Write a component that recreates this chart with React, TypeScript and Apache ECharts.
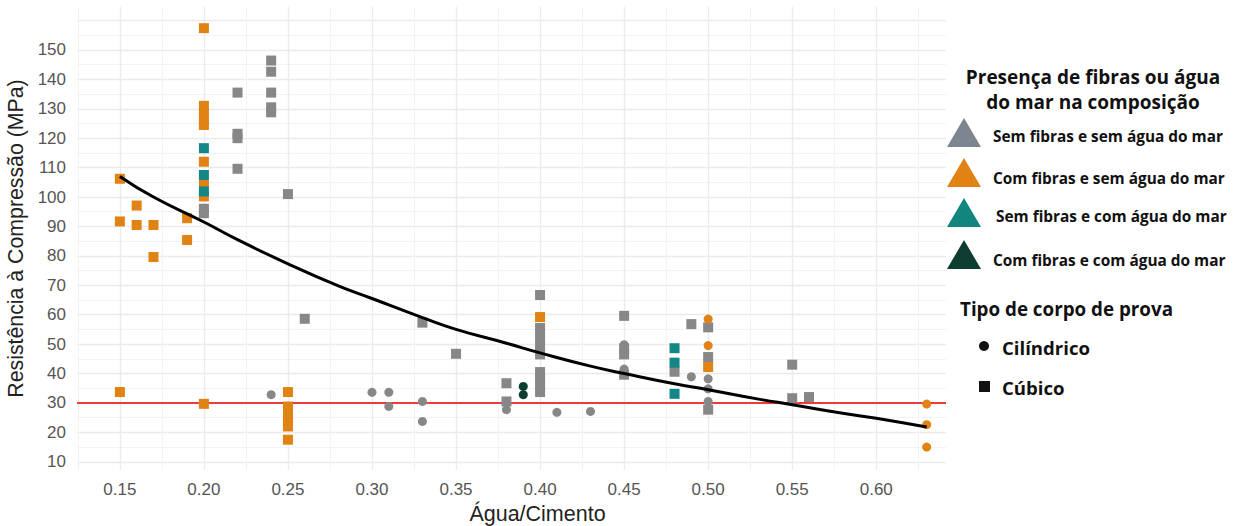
import React, { useEffect, useRef } from "react";
import * as echarts from "echarts";

// ---- data ----
type P = [number, number];

// Sem fibras e sem água do mar
const grayCubic: P[] = [
  [0.2, 96], [0.2, 94.5],
  [0.22, 135.5], [0.22, 121.5], [0.22, 120], [0.22, 109.6],
  [0.24, 146.4], [0.24, 142.6], [0.24, 135.5], [0.24, 130.5], [0.24, 128.8],
  [0.25, 101], [0.26, 58.6], [0.33, 57.3], [0.35, 46.7],
  [0.38, 36.7], [0.38, 30.5],
  [0.4, 66.7], [0.4, 55.5], [0.4, 52.5], [0.4, 49.5], [0.4, 46.5],
  [0.4, 40.5], [0.4, 38], [0.4, 36], [0.4, 33.7],
  [0.45, 59.6], [0.45, 48.5], [0.45, 46.5], [0.45, 39.6],
  [0.48, 40.6], [0.49, 56.8],
  [0.5, 55.7], [0.5, 45.6], [0.5, 27.7],
  [0.55, 43], [0.55, 31.6], [0.56, 32],
];
const grayCyl: P[] = [
  [0.24, 32.8], [0.3, 33.6], [0.31, 33.6], [0.31, 28.8],
  [0.33, 30.5], [0.33, 23.7], [0.38, 27.7], [0.41, 26.8], [0.43, 27.1],
  [0.45, 49.8], [0.45, 41.5], [0.49, 38.9],
  [0.5, 38.2], [0.5, 34.8], [0.5, 30.5],
];
// Com fibras e sem água do mar
const orangeCubic: P[] = [
  [0.15, 106.2], [0.15, 91.7], [0.15, 33.7],
  [0.16, 97.1], [0.16, 90.5],
  [0.17, 90.5], [0.17, 79.6],
  [0.19, 92.8], [0.19, 85.4],
  [0.2, 157.4], [0.2, 131], [0.2, 128.5], [0.2, 126], [0.2, 124.5],
  [0.2, 112], [0.2, 104.7], [0.2, 100.2], [0.2, 29.7],
  [0.25, 33.7], [0.25, 28.8], [0.25, 26], [0.25, 24], [0.25, 22], [0.25, 17.5],
  [0.4, 59.2], [0.5, 42.2],
];
const orangeCyl: P[] = [
  [0.5, 58.5], [0.5, 49.5], [0.63, 29.6], [0.63, 22.6], [0.63, 15],
];
// Sem fibras e com água do mar
const tealCubic: P[] = [
  [0.2, 116.6], [0.2, 107.5], [0.2, 101.9],
  [0.48, 48.6], [0.48, 43.7], [0.48, 33.1],
];
// Com fibras e com água do mar
const darkCyl: P[] = [[0.39, 35.6], [0.39, 32.8]];

// Curva de tendência
const trendX = [0.15, 0.17, 0.2, 0.22, 0.25, 0.28, 0.3, 0.33, 0.35, 0.38, 0.4, 0.43, 0.45, 0.48, 0.5, 0.53, 0.55, 0.58, 0.6, 0.63];
const trendY = [107, 100, 91.5, 85.5, 77.3, 69.8, 65.5, 59, 55, 50.3, 47, 42.5, 40, 36.5, 34.5, 31.3, 29.4, 26.5, 24.8, 21.8];

const limitValue = 30;

const legendTitle = ["Presença de fibras ou água", "do mar na composição"];
const legendItems = [
  "Sem fibras e sem água do mar",
  "Com fibras e sem água do mar",
  "Sem fibras e com água do mar",
  "Com fibras e com água do mar",
];
const shapeTitle = "Tipo de corpo de prova";
const shapeItems = ["Cilíndrico", "Cúbico"];

const C_GRAY = "#878787";
const C_ORANGE = "#e08214";
const C_TEAL = "#138686";
const C_DARK = "#0c3d30";
const TRI_COLORS = ["#7d8590", C_ORANGE, "#13857f", C_DARK];

export default function App() {
  const ref = useRef<HTMLDivElement>(null);
  useEffect(() => {
    const chart = echarts.init(ref.current!, null, { renderer: "svg" });
    const tickFont = { fontFamily: "Liberation Sans", fontSize: 17, color: "#555" };
    const legendFont = "Open Sans";

    const graphic: any[] = [];
    legendTitle.forEach((t, i) => {
      graphic.push({
        type: "text",
        style: {
          text: t, x: 1093, y: 77 + i * 25, textAlign: "center", textVerticalAlign: "middle",
          fontFamily: legendFont, fontWeight: "bold", fontSize: 19, fill: "#111",
        },
      });
    });
    const triTop = [118, 158, 198, 240];
    legendItems.forEach((t, i) => {
      const top = triTop[i];
      graphic.push({
        type: "polygon",
        shape: { points: [[964, top], [947, top + 29], [981, top + 29]] },
        style: { fill: TRI_COLORS[i] },
      });
      graphic.push({
        type: "text",
        style: {
          text: t, x: i === 2 ? 996 : 993, y: [136, 178, 216, 260][i], textVerticalAlign: "middle",
          fontFamily: legendFont, fontWeight: "bold", fontSize: 15.4, fill: "#111",
        },
      });
    });
    graphic.push({
      type: "text",
      style: {
        text: shapeTitle, x: 960, y: 309, textVerticalAlign: "middle",
        fontFamily: legendFont, fontWeight: "bold", fontSize: 18.8, fill: "#111",
      },
    });
    graphic.push({ type: "circle", shape: { cx: 984, cy: 346, r: 5 }, style: { fill: "#111" } });
    graphic.push({ type: "rect", shape: { x: 979, y: 381, width: 11, height: 11 }, style: { fill: "#111" } });
    shapeItems.forEach((t, i) => {
      graphic.push({
        type: "text",
        style: {
          text: t, x: 1002, y: [347, 387][i], textVerticalAlign: "middle",
          fontFamily: legendFont, fontWeight: "bold", fontSize: 18.6, fill: "#111",
        },
      });
    });

    const scatter = (data: P[], color: string, symbol: string, size: number) => ({
      type: "scatter",
      data,
      symbol,
      symbolSize: size,
      itemStyle: { color, opacity: 1 },
      z: 3,
      silent: true,
    });

    chart.setOption({
      animation: false,
      backgroundColor: "#fff",
      grid: { left: 77, right: 298, top: 7, bottom: 56, containLabel: false, outerBoundsMode: "none" },
      xAxis: {
        type: "value",
        min: 0.1245,
        max: 0.6415,
        splitNumber: 10,
        name: "Água/Cimento",
        nameLocation: "middle",
        nameGap: 32,
        nameTextStyle: { fontFamily: "Liberation Sans", fontSize: 21.5, color: "#222", padding: [0, 0, 0, 52] },
        axisLine: { show: false },
        axisTick: { show: false },
        axisLabel: {
          ...tickFont,
          margin: 11,
          showMinLabel: false,
          showMaxLabel: false,
          formatter: (v: number) => {
            const k = Math.round(v / 0.05);
            return Math.abs(v - k * 0.05) < 1e-6 && v > 0.14 && v < 0.61 ? v.toFixed(2) : "";
          },
        },
        splitLine: { show: true, showMinLine: false, showMaxLine: false, lineStyle: { color: "#ebebeb", width: 1.3 } },
        minorTick: { show: false, splitNumber: 2 },
        minorSplitLine: { show: true, lineStyle: { color: "#f3f3f3", width: 1 } },
      },
      yAxis: {
        type: "value",
        min: 7.2,
        max: 164.6,
        splitNumber: 16,
        name: "Resistência à Compressão (MPa)",
        nameLocation: "middle",
        nameGap: 48,
        nameTextStyle: { fontFamily: "Liberation Sans", fontSize: 21.3, color: "#222" },
        axisLine: { show: false },
        axisTick: { show: false },
        axisLabel: {
          ...tickFont,
          margin: 11,
          showMinLabel: false,
          showMaxLabel: false,
          formatter: (v: number) => {
            const r = Math.round(v);
            return Math.abs(v - r) < 1e-6 && r % 10 === 0 && r >= 10 && r <= 150 ? String(r) : "";
          },
        },
        splitLine: { show: true, showMinLine: false, showMaxLine: false, lineStyle: { color: "#ebebeb", width: 1.3 } },
        minorTick: { show: false, splitNumber: 2 },
        minorSplitLine: { show: true, lineStyle: { color: "#f3f3f3", width: 1 } },
      },
      series: [
        {
          type: "line",
          data: [],
          z: 1,
          silent: true,
          markLine: {
            silent: true,
            symbol: ["none", "none"],
            label: { show: false },
            z: 1,
            lineStyle: { color: "#f03a3a", width: 2.2, type: "solid" },
            data: [{ yAxis: limitValue }],
          },
        },
        scatter(grayCubic, C_GRAY, "rect", 10),
        scatter(grayCyl, C_GRAY, "circle", 9),
        scatter(orangeCubic, C_ORANGE, "rect", 10),
        scatter(orangeCyl, C_ORANGE, "circle", 9),
        scatter(tealCubic, C_TEAL, "rect", 10),
        scatter(darkCyl, C_DARK, "circle", 9),
        {
          type: "line",
          data: trendX.map((x, i) => [x, trendY[i]]),
          smooth: true,
          showSymbol: false,
          symbol: "none",
          lineStyle: { color: "#000", width: 3 },
          z: 5,
          silent: true,
        },
      ],
      graphic,
    });
    return () => chart.dispose();
  }, []);
  return (
    <div
      ref={ref}
      style={{ position: "fixed", left: 0, top: 0, width: 1244, height: 526, background: "#fff" }}
    />
  );
}
